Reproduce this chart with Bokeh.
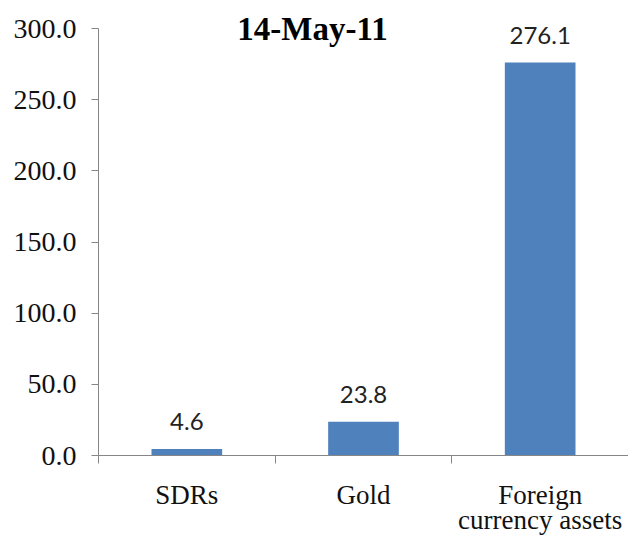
from bokeh.plotting import figure
from bokeh.models import ColumnDataSource, FixedTicker, NumeralTickFormatter, Range1d, Label
from bokeh.core.properties import value
from bokeh.embed import file_html
from bokeh.resources import INLINE

categories = ["SDRs", "Gold", "Foreign\ncurrency assets"]
values = [4.6, 23.8, 276.1]
value_labels = ["4.6", "23.8", "276.1"]
title_text = "14-May-11"
y_ticks = [0, 50, 100, 150, 200, 250, 300]

xpos = [i + 0.5 for i in range(len(categories))]
src = ColumnDataSource(dict(x=xpos, top=values, lab=value_labels))

p = figure(width=628, height=538, output_backend="svg", toolbar_location=None,
           x_range=Range1d(0, 3), y_range=Range1d(0, 316.2),
           min_border_left=98, min_border_right=0, min_border_top=5, min_border_bottom=83)
p.outline_line_color = None
p.xgrid.grid_line_color = None
p.ygrid.grid_line_color = None

p.vbar(x="x", top="top", width=0.4, source=src, fill_color="#4F81BD", line_color=None)
p.text(x="x", y="top", text="lab", source=src, text_align="center", text_baseline="alphabetic",
       y_offset=-27, text_font=value("Lato"), text_font_size="24px", text_color="#222222")

axis_color = "#868686"
xa = p.xaxis[0]
xa.ticker = FixedTicker(ticks=xpos, minor_ticks=[0, 1, 2, 3])
xa.major_label_overrides = {x: c for x, c in zip(xpos, categories)}
xa.major_tick_line_color = None
xa.major_tick_out = 0
xa.minor_tick_in = 0
xa.minor_tick_out = 8
xa.minor_tick_line_color = axis_color
xa.axis_line_color = axis_color
xa.major_label_text_font = "Liberation Serif"
xa.major_label_text_font_size = "27px"
xa.major_label_text_color = "#111111"
xa.major_label_text_line_height = 0.85
xa.major_label_standoff = 16

ya = p.yaxis[0]
ya.ticker = FixedTicker(ticks=y_ticks)
ya.bounds = (0, 300)
ya.formatter = NumeralTickFormatter(format="0.0")
ya.minor_tick_line_color = None
ya.major_tick_in = 0
ya.major_tick_out = 7
ya.major_tick_line_color = axis_color
ya.axis_line_color = axis_color
ya.major_label_text_font = "Liberation Serif"
ya.major_label_text_font_size = "28px"
ya.major_label_text_color = "#111111"
ya.major_label_standoff = 15

p.add_layout(Label(x=214, y=427, x_units="screen", y_units="screen", text=title_text,
                   text_align="center", text_baseline="middle", text_font="Liberation Serif",
                   text_font_style="bold", text_font_size="33px", text_color="#000000"))

open("out.html", "w").write(file_html(p, INLINE))
